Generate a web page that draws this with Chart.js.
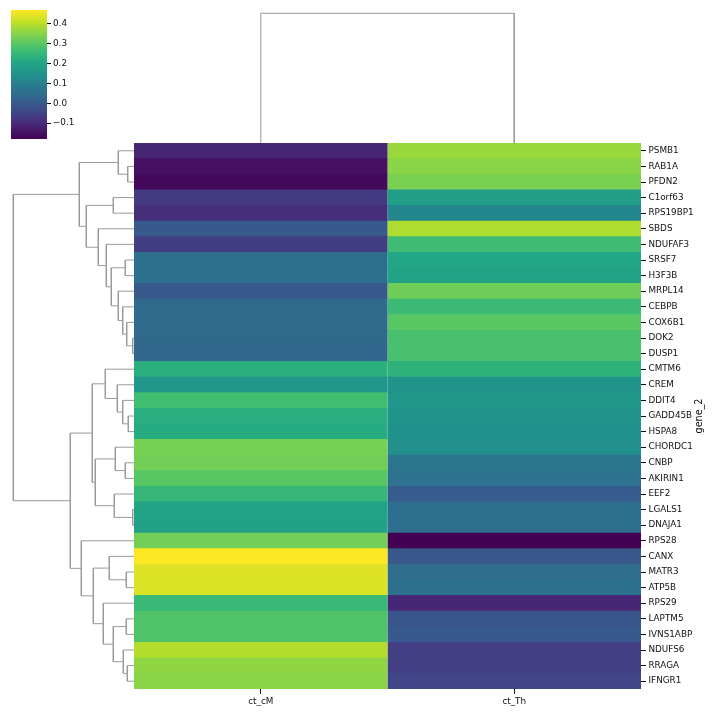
<!DOCTYPE html>
<html lang="en">
<head>
<meta charset="UTF-8">
<title>Clustermap gene_2</title>
<script src="https://cdn.jsdelivr.net/npm/chart.js"></script>
<style>
  body { margin: 0; background: #fff; }
  .wrap { position: relative; width: 712px; height: 712px; }
  canvas { position: absolute; }
</style>
</head>
<body>
<div class="wrap">
  <canvas id="heat" width="712" height="712" style="left:0;top:0"></canvas>
  <canvas id="rowDendro" width="134" height="712" style="left:0;top:0"></canvas>
  <canvas id="colDendro" width="507" height="143" style="left:134px;top:0"></canvas>
  <canvas id="cbar" width="110" height="150" style="left:0;top:0"></canvas>
</div>

<script>
// ---- data ----
const genes = ['PSMB1', 'RAB1A', 'PFDN2', 'C1orf63', 'RPS19BP1', 'SBDS', 'NDUFAF3', 'SRSF7', 'H3F3B',
  'MRPL14', 'CEBPB', 'COX6B1', 'DOK2', 'DUSP1', 'CMTM6', 'CREM', 'DDIT4', 'GADD45B', 'HSPA8',
  'CHORDC1', 'CNBP', 'AKIRIN1', 'EEF2', 'LGALS1', 'DNAJA1', 'RPS28', 'CANX', 'MATR3', 'ATP5B',
  'RPS29', 'LAPTM5', 'IVNS1ABP', 'NDUFS6', 'RRAGA', 'IFNGR1'];
const columns = ['ct_cM', 'ct_Th'];

const cMValues = [-0.11, -0.15, -0.165, -0.07, -0.095, 0.0, -0.065, 0.06, 0.06,
  0.0, 0.045, 0.045, 0.04, 0.035, 0.23, 0.16, 0.27, 0.225, 0.22,
  0.335, 0.33, 0.30, 0.25, 0.195, 0.19, 0.33, 0.47, 0.44, 0.435,
  0.255, 0.29, 0.29, 0.395, 0.36, 0.355];
const ThValues = [0.37, 0.355, 0.34, 0.18, 0.12, 0.39, 0.265, 0.205, 0.195,
  0.325, 0.26, 0.30, 0.28, 0.28, 0.235, 0.155, 0.16, 0.155, 0.145,
  0.14, 0.075, 0.065, 0.005, 0.055, 0.055, -0.18, -0.005, 0.05, 0.06,
  -0.11, -0.01, 0.0, -0.06, -0.06, -0.045];

const vmin = -0.18, vmax = 0.47;
const cbarTicks = [-0.1, 0.0, 0.1, 0.2, 0.3, 0.4];

// row linkage, scipy style: index >= genes.length means an earlier merge
const rowLinkA = [1, 0, 3, 7, 12, 11, 10, 9, 38, 6, 5, 37, 36, 17, 16, 15, 14, 20, 19, 23, 22, 53, 51,
  27, 26, 30, 33, 32, 60, 29, 59, 25, 57, 47];
const rowLinkB = [2, 35, 4, 8, 13, 39, 40, 41, 42, 43, 44, 45, 46, 18, 48, 49, 50, 21, 52, 24, 54, 55, 56,
  28, 58, 31, 34, 61, 62, 63, 64, 65, 66, 67];
const rowLinkHeight = [0.063, 0.157, 0.207, 0.087, 0.013, 0.073, 0.113, 0.157, 0.227, 0.277, 0.357, 0.477,
  0.547, 0.057, 0.113, 0.167, 0.287, 0.087, 0.187, 0.013, 0.197, 0.387, 0.417, 0.077, 0.247, 0.077,
  0.067, 0.107, 0.207, 0.307, 0.407, 0.527, 0.637, 1.207];

const colLinkA = [0];
const colLinkB = [1];
const colLinkHeight = [1.297];

// ---- helpers ----
const viridisStops = ['#440154', '#482475', '#414487', '#355f8d', '#2a788e', '#21918c',
  '#22a884', '#44bf70', '#7ad151', '#bddf26', '#fde725'];

function hexToRgb(h) {
  return [1, 3, 5].map(i => parseInt(h.substr(i, 2), 16));
}

function viridis(t) {
  t = Math.max(0, Math.min(1, t));
  const p = t * (viridisStops.length - 1);
  const i = Math.min(Math.floor(p), viridisStops.length - 2);
  const f = p - i;
  const a = hexToRgb(viridisStops[i]), b = hexToRgb(viridisStops[i + 1]);
  const c = a.map((v, k) => Math.round(v + (b[k] - v) * f));
  return `rgb(${c[0]},${c[1]},${c[2]})`;
}

function colorFor(v) {
  return viridis((v - vmin) / (vmax - vmin));
}

// builds the U shaped link of each merge: [leafPos, height] pairs
function linkSegments(a, b, h, leafCount) {
  const pos = [], height = [];
  for (let i = 0; i < leafCount; i++) { pos.push(i); height.push(0); }
  return a.map((l, k) => {
    const r = b[k];
    const seg = [[pos[l], height[l]], [pos[l], h[k]], [pos[r], h[k]], [pos[r], height[r]]];
    pos.push((pos[l] + pos[r]) / 2);
    height.push(h[k]);
    return seg;
  });
}

const lineColor = '#9a9a9a';
const textColor = '#111';
const tickFont = { family: 'DejaVu Sans', size: 8.8 };

Chart.defaults.animation = false;
Chart.defaults.plugins.legend.display = false;
Chart.defaults.plugins.tooltip.enabled = false;
Chart.defaults.events = [];

// ---- heatmap ----
const cellValues = [cMValues, ThValues];

const geneTitle = {
  id: 'geneTitle',
  afterDraw(chart) {
    const ctx = chart.ctx, area = chart.chartArea;
    ctx.save();
    ctx.translate(699, (area.top + area.bottom) / 2);
    ctx.rotate(-Math.PI / 2);
    ctx.fillStyle = textColor;
    ctx.font = '9.6px "DejaVu Sans"';
    ctx.textAlign = 'center';
    ctx.textBaseline = 'middle';
    ctx.fillText('gene_2', 0, 0);
    ctx.restore();
  }
};

new Chart(document.getElementById('heat'), {
  type: 'bar',
  data: {
    labels: genes,
    datasets: columns.map((c, j) => ({
      label: c,
      data: genes.map(() => 1),
      backgroundColor: cellValues[j].map(colorFor),
      borderWidth: 0,
      barPercentage: 1.04,
      categoryPercentage: 1
    }))
  },
  options: {
    indexAxis: 'y',
    responsive: false,
    layout: { padding: { left: 134, top: 143, right: 0, bottom: 0 } },
    scales: {
      x: {
        type: 'linear',
        stacked: true,
        min: 0,
        max: columns.length,
        afterBuildTicks: s => { s.ticks = columns.map((_, i) => ({ value: i + 0.5 })); },
        afterFit: s => { s.height = 23; },
        ticks: {
          autoSkip: false, maxRotation: 0, color: textColor, font: tickFont, padding: 2,
          callback: v => columns[Math.floor(v)]
        },
        grid: { drawOnChartArea: false, tickLength: 5, color: textColor },
        border: { display: false }
      },
      y: {
        stacked: true,
        position: 'right',
        afterFit: s => { s.width = 71; },
        ticks: { autoSkip: false, color: textColor, font: tickFont, padding: 2.5 },
        grid: { drawOnChartArea: false, tickLength: 5, offset: false, color: textColor },
        border: { display: false }
      }
    }
  },
  plugins: [geneTitle]
});

// ---- row dendrogram ----
const rowSegs = linkSegments(rowLinkA, rowLinkB, rowLinkHeight, genes.length);
new Chart(document.getElementById('rowDendro'), {
  type: 'scatter',
  data: {
    datasets: rowSegs.map(seg => ({
      data: seg.map(p => ({ x: p[1], y: p[0] })),
      showLine: true, borderColor: lineColor, borderWidth: 1, pointRadius: 0
    }))
  },
  options: {
    responsive: false,
    layout: { padding: { left: 0, top: 143, right: 0, bottom: 23 } },
    scales: {
      x: { type: 'linear', reverse: true, min: 0, max: 1.34, display: false },
      y: { type: 'linear', reverse: true, min: -0.5, max: genes.length - 0.5, display: false }
    }
  }
});

// ---- column dendrogram ----
const colSegs = linkSegments(colLinkA, colLinkB, colLinkHeight, columns.length);
new Chart(document.getElementById('colDendro'), {
  type: 'scatter',
  data: {
    datasets: colSegs.map(seg => ({
      data: seg.map(p => ({ x: p[0], y: p[1] })),
      showLine: true, borderColor: lineColor, borderWidth: 1, pointRadius: 0
    }))
  },
  options: {
    responsive: false,
    layout: { padding: 0 },
    scales: {
      x: { type: 'linear', min: -0.5, max: columns.length - 0.5, display: false },
      y: { type: 'linear', min: 0, max: 1.43, display: false }
    }
  }
});

// ---- colorbar ----
new Chart(document.getElementById('cbar'), {
  type: 'bar',
  data: {
    labels: [''],
    datasets: [{
      data: [[vmin, vmax]],
      borderWidth: 0,
      barPercentage: 1,
      categoryPercentage: 1,
      backgroundColor: c => {
        const chart = c.chart;
        if (!chart.chartArea) return null;
        const ys = chart.scales.y;
        const g = chart.ctx.createLinearGradient(0, ys.getPixelForValue(vmin), 0, ys.getPixelForValue(vmax));
        for (let i = 0; i <= 40; i++) g.addColorStop(i / 40, viridis(i / 40));
        return g;
      }
    }]
  },
  options: {
    responsive: false,
    layout: { padding: { left: 11, top: 10, right: 0, bottom: 11 } },
    scales: {
      x: { display: false },
      y: {
        position: 'right',
        min: vmin,
        max: vmax,
        afterFit: s => { s.width = 63; },
        afterBuildTicks: s => { s.ticks = cbarTicks.map(v => ({ value: v })); },
        ticks: {
          color: textColor, font: tickFont, padding: 2,
          callback: v => (v < -1e-9 ? '\u2212' : '') + Math.abs(v).toFixed(1)
        },
        grid: { drawOnChartArea: false, tickLength: 4, color: textColor },
        border: { display: false }
      }
    }
  }
});
</script>
</body>
</html>
